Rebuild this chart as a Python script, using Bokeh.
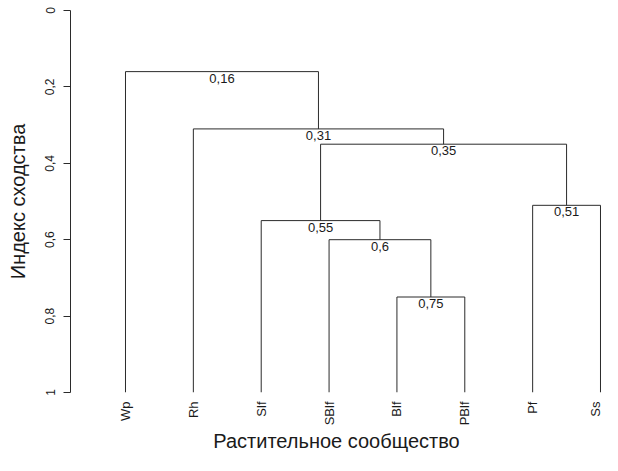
import math
from bokeh.plotting import figure
from bokeh.models import Range1d, FixedTicker, CustomJSTickFormatter, ColumnDataSource
from bokeh.core.properties import value
from bokeh.embed import file_html
from bokeh.resources import INLINE

# ---- data ----
leaf_labels = ["Wp", "Rh", "Slf", "SBlf", "Blf", "PBlf", "Pf", "Ss"]
# merges (R hclust style): negative = leaf number, positive = earlier merge step
merge_left = [-5, -4, -3, -7, 3, -2, -1]
merge_right = [-6, 1, 2, -8, 4, 5, 6]
merge_height = [0.75, 0.60, 0.55, 0.51, 0.35, 0.31, 0.16]
height_labels = ["0,75", "0,6", "0,55", "0,51", "0,35", "0,31", "0,16"]
y_ticks = [0, 0.2, 0.4, 0.6, 0.8, 1]
leaf_height = 1.0
x_title = "Растительное сообщество"
y_title = "Индекс сходства"

# ---- build dendrogram geometry ----
node_x, node_y = [], []


def pos(ref):
    if ref < 0:
        return float(-ref), leaf_height
    return node_x[ref - 1], node_y[ref - 1]


x0s, y0s, x1s, y1s = [], [], [], []
for l, r, h in zip(merge_left, merge_right, merge_height):
    xl, yl = pos(l)
    xr, yr = pos(r)
    x0s += [xl, xr, xl]
    y0s += [yl, yr, h]
    x1s += [xl, xr, xr]
    y1s += [h, h, h]
    node_x.append((xl + xr) / 2)
    node_y.append(h)

seg = ColumnDataSource(dict(x0=x0s, y0=y0s, x1=x1s, y1=y1s))
lab = ColumnDataSource(dict(x=node_x, y=node_y, t=height_labels))

FONT = "Liberation Sans"
p = figure(width=602, height=455, output_backend="svg", toolbar_location=None,
           x_range=Range1d(0.1895, 8.0295), y_range=Range1d(leaf_height, 0),
           min_border_left=70, min_border_right=0, min_border_top=10, min_border_bottom=62)
p.outline_line_color = None
p.grid.visible = False
p.background_fill_color = "white"
p.border_fill_color = "white"

p.segment("x0", "y0", "x1", "y1", source=seg, line_color="#2b2b2b", line_width=1)
p.text("x", "y", text="t", source=lab, text_align="center", text_baseline="top",
       y_offset=2, text_font=value(FONT), text_font_size="13px", text_color="#1a1a1a")

# y axis
ya = p.yaxis[0]
ya.ticker = FixedTicker(ticks=y_ticks)
ya.formatter = CustomJSTickFormatter(code="return tick.toString().replace('.', ',');")
ya.major_label_orientation = "vertical"
ya.major_label_text_font = FONT
ya.major_label_text_font_size = "12px"
ya.major_label_text_color = "#1a1a1a"
ya.major_tick_out = 7
ya.major_tick_in = 0
ya.minor_tick_out = 0
ya.minor_tick_in = 0
ya.major_label_standoff = 9
ya.axis_line_color = "#2b2b2b"
ya.major_tick_line_color = "#2b2b2b"
ya.axis_label = y_title
ya.axis_label_text_font = FONT
ya.axis_label_text_font_size = "20px"
ya.axis_label_text_font_style = "normal"
ya.axis_label_text_color = "#1a1a1a"
ya.axis_label_standoff = 14

# x axis
xa = p.xaxis[0]
xa.ticker = FixedTicker(ticks=list(range(1, len(leaf_labels) + 1)))
xa.major_label_overrides = {i + 1: s for i, s in enumerate(leaf_labels)}
xa.major_label_orientation = math.pi / 2
xa.major_label_text_font = FONT
xa.major_label_text_font_size = "13px"
xa.major_label_text_color = "#1a1a1a"
xa.axis_line_color = None
xa.major_tick_line_color = None
xa.minor_tick_line_color = None
xa.major_label_standoff = 3
xa.axis_label = x_title
xa.axis_label_text_font = FONT
xa.axis_label_text_font_size = "20px"
xa.axis_label_text_font_style = "normal"
xa.axis_label_text_color = "#1a1a1a"
xa.axis_label_standoff = 2

open("out.html", "w").write(file_html(p, INLINE))
